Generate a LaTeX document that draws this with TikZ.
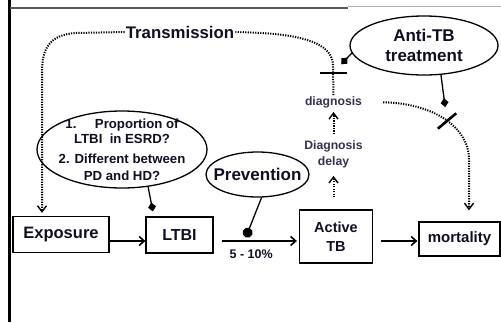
\documentclass[tikz,border=0pt]{standalone}
\usepackage{fontspec}
\setmainfont{Liberation Sans}
\usetikzlibrary{shapes.geometric,arrows.meta}
\definecolor{ink}{RGB}{15,15,35}
\definecolor{note}{RGB}{50,50,80}
\begin{document}
\begin{tikzpicture}[x=1pt,y=-1pt,box/.style={shape=rectangle,draw=black,line width=1.3pt,text=ink,inner sep=0pt,align=center},bubble/.style={shape=ellipse,draw=black,line width=1.3pt,text=ink,inner sep=-8pt,align=center},lbl/.style={text=note,inner sep=1pt,align=center,font=\fontsize{12.2}{16}\selectfont\bfseries},flow/.style={line width=1.6pt,-{Straight Barb[length=5pt,width=9pt]}},dots/.style={line width=2pt,dash pattern=on 1.2pt off 1.3pt},dotflow/.style={dots,-{Straight Barb[length=6pt,width=9pt,line width=1.4pt]}},inhib/.style={line width=1.3pt,-{Turned Square[length=9pt,width=8pt]}},block/.style={shape=rectangle,fill=black,inner sep=0pt,minimum height=2.6pt}]
\def\ya{241};
\def\xt{42};
\def\xm{469};

\useasboundingbox (0,0) rectangle (501,322);
\draw[line width=3pt] (9,0) -- (9,322);
\draw[gray!70!black,line width=1.2pt] (10,8) -- (348,8);
\draw[gray!60,line width=1.2pt] (348,6.5) -- (501,6.5);

\node[box,minimum width=96pt,minimum height=36pt,font=\fontsize{16.5}{18}\selectfont\bfseries] (expo) at (61,234.5) {Exposure};
\node[box,minimum width=67pt,minimum height=36pt,font=\fontsize{16}{18}\selectfont\bfseries] (ltbi) at (179.5,235) {LTBI};
\node[box,minimum width=73pt,minimum height=53pt,font=\fontsize{14.5}{19}\selectfont\bfseries] (atb) at (336,236.5) {Active\\TB};
\node[box,minimum width=81pt,minimum height=34pt,font=\fontsize{15}{18}\selectfont\bfseries] (mort) at (459.5,239) {mortality};

\node[bubble,minimum width=170pt,minimum height=77pt,font=\fontsize{13.2}{15}\selectfont\bfseries] (quest) at (122,149.5) {1.\hspace{1.4em}Proportion of\\LTBI\ \ in ESRD?\\[5pt]2. Different between\\[2pt]PD and HD?};
\node[bubble,minimum width=103pt,minimum height=45pt,font=\fontsize{17}{20}\selectfont\bfseries] (prev) at (257.5,174.5) {Prevention};
\node[bubble,minimum width=148pt,minimum height=59pt,font=\fontsize{17}{20}\selectfont\bfseries] (antitb) at (424,45.5) {Anti-TB\\treatment};

\node[fill=white,text=ink,inner sep=1pt,font=\fontsize{16.8}{18}\selectfont\bfseries] (trans) at (180,32) {Transmission};
\node[lbl] (diag) at (333.5,102) {diagnosis};
\node[lbl] (delay) at (333.5,154) {Diagnosis\\delay};

\node[block,minimum width=27pt] (cut1) at (333,73) {};
\node[block,minimum width=24pt,rotate=40] (cut2) at (447,121) {};

\draw[flow] (expo.east |- 0,\ya) -- (ltbi.west |- 0,\ya);
\draw[flow,shorten <=8pt,shorten >=2pt] (ltbi.east |- 0,\ya) -- coordinate[pos=0.36] (hit) (atb.west |- 0,\ya) node[pos=0.44,below=7pt,inner sep=1pt,text=ink,font=\fontsize{12.5}{14}\selectfont\bfseries] {5 - 10\%};
\draw[flow,shorten <=7.5pt,shorten >=1pt] (atb.east |- 0,\ya) -- (mort.west |- 0,\ya);

\draw[dotflow,shorten <=12pt,shorten >=7pt] (atb.north -| delay.south) -- (delay.south);
\draw[dotflow,shorten <=5pt,shorten >=3pt] (delay.north) -- (diag.south);
\draw[dots] (diag.north) -- (333,66) .. controls (333,42) and (300,33) .. (trans.east);
\draw[dotflow,shorten >=3pt] (trans.west) -- (75,33) .. controls (50,35) and (\xt,48) .. (\xt,72) -- (expo.north -| \xt,0);
\draw[dotflow,shorten <=20pt,shorten >=11pt] (diag.east) .. controls (430,103) and (\xm,125) .. (\xm,160) -- (mort.north -| \xm,0);

\draw[inhib,shorten >=12pt] (antitb.186) -- (cut1.center);
\draw[inhib,shorten >=14pt] (antitb.-60) -- (cut2.center);
\draw[inhib,shorten >=5pt] (quest.-55) -- (ltbi.144);
\draw[line width=1.3pt,-{Circle[length=10pt]},shorten >=4pt] (prev.-80) -- (hit);
\end{tikzpicture}
\end{document}
